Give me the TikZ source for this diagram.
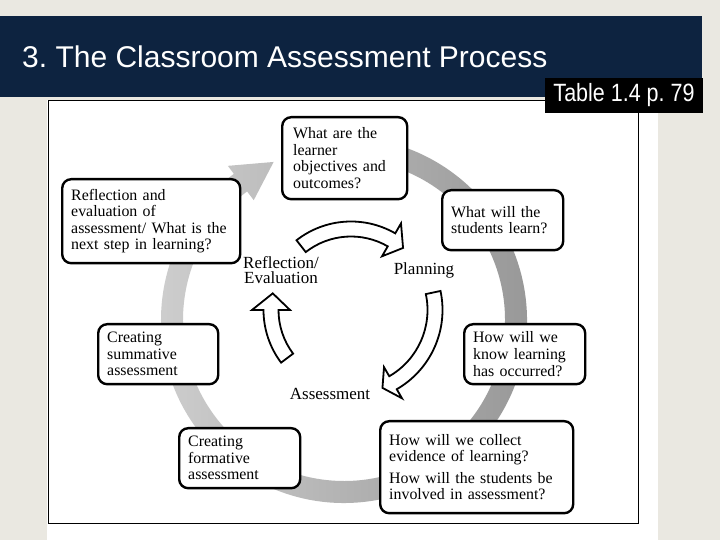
\documentclass[tikz,border=0pt]{standalone}
\usepackage{fontspec}
\usepackage{graphicx}
\setmainfont{Liberation Serif}
\newfontfamily\sansf{Liberation Sans}
\definecolor{bgcol}{HTML}{EAE8E1}
\definecolor{navy}{HTML}{0D2340}
\newcommand\hollowarr[6]{% r, w, tail, base, tip, hw
  \draw[hollow] (#3:{#1+#2/2}) arc[start angle=#3, end angle=#4, radius={#1+#2/2}]
    -- (#4:{#1+#6}) -- (#5:#1) -- (#4:{#1-#6}) -- (#4:{#1-#2/2})
    arc[start angle=#4, end angle=#3, radius={#1-#2/2}] -- cycle;}
\begin{document}
\frenchspacing
\begin{tikzpicture}[x=1pt,y=1pt,
  hollow/.style={draw=black, line width=1.8pt, fill=white, line join=miter},
  qbox/.style={draw, line width=2.4pt, rounded corners=9pt, fill=white, align=left,
    inner ysep=0pt, inner xsep=9pt, anchor=north west,
    font=\fontsize{15.9}{16.6}\selectfont},
  stage/.style={align=center, font=\fontsize{17}{15.5}\selectfont}]
\useasboundingbox (0,0) rectangle (720,540);
\fill[bgcol] (0,0) rectangle (720,540);
% title bar
\fill[navy] (0,524) rectangle (702,443);
\node[anchor=base west, text=white, inner sep=0pt, font=\sansf\fontsize{30}{30}\selectfont] (title) at (22,472) {3. The Classroom Assessment Process};
% white picture
\fill[white] (47,440) rectangle (658,0);
\draw[line width=1pt] (48,439) rectangle (638,16);
% table label
\node[fill=black, text=white, inner sep=0pt, minimum width=158pt, minimum height=35pt, font=\sansf\fontsize{25}{25}\selectfont] (table) at (624,444.5) {\scalebox{0.86}[1]{Table 1.4 p. 79}};
% gray ring
\begin{scope}[shift={(344,220)}]
\shade[left color=gray!38, right color=gray!82]
  (100:183) arc[start angle=100, end angle=-233, radius=183]
  -- (-233:193) -- (-246:173) -- (-233:150) -- (-233:161)
  arc[start angle=-233, end angle=100, radius=161] -- cycle;
\end{scope}
% inner arrows
\begin{scope}[shift={(351,230)}]
\hollowarr{81}{15}{128}{60}{50}{19}
\hollowarr{84}{15}{12}{-60}{-68}{18}
\hollowarr{80}{15}{217}{180}{168}{19}
\end{scope}
% stage labels
\node[stage] (refl) at (281,270) {Reflection/\\Evaluation};
\node[stage] (plan) at (424,270) {Planning};
\node[stage] (assess) at (330,146) {Assessment};
% boxes
\node[qbox, text width=103pt, inner xsep=11pt, minimum height=82pt] (b1) at (281,424) {What are the\\learner\\objectives and\\outcomes?};
\node[qbox, text width=103pt, minimum height=60pt] (b2) at (441,351) {What will the\\students learn?};
\node[qbox, text width=103pt, minimum height=60pt] (b3) at (463,217) {How will we\\know learning\\has occurred?};
\node[qbox, text width=175pt, minimum height=92pt] (b4) at (379,120) {How will we collect\\evidence of learning?\\[5pt]How will the students be\\involved in assessment?};
\node[qbox, text width=103pt, minimum height=60pt] (b5) at (178,113) {Creating\\formative\\assessment};
\node[qbox, text width=102pt, minimum height=60pt] (b6) at (97,217) {Creating\\summative\\assessment};
\node[qbox, text width=160pt, minimum height=84pt] (b7) at (61,362) {Reflection and\\evaluation of\\assessment/ What is the\\next step in learning?};
\end{tikzpicture}
\end{document}
